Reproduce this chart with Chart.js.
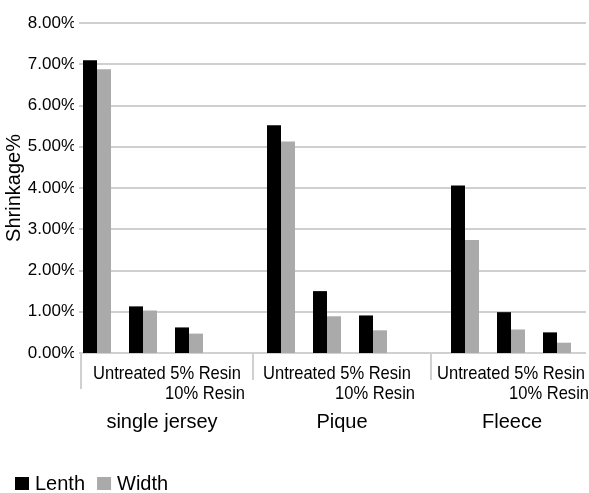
<!DOCTYPE html>
<html><head><meta charset="utf-8">
<script src="https://cdn.jsdelivr.net/npm/chart.js@4"></script>
<style>html,body{margin:0;padding:0;background:#fff;overflow:hidden}#wrap{width:589px;height:493px}</style>
</head><body><div id="wrap"><canvas id="c" width="589" height="493"></canvas></div>
<script>
// ---- data ----
const groups = ['single jersey', 'Pique', 'Fleece'];
const treatments = ['Untreated', '5% Resin', '10% Resin'];
const seriesNames = ['Lenth', 'Width'];
const lenth = [7.10, 1.13, 0.62, 5.52, 1.50, 0.91, 4.06, 0.99, 0.50];
const width = [6.88, 1.03, 0.47, 5.13, 0.89, 0.55, 2.74, 0.57, 0.25];
const yTicks = [0, 1, 2, 3, 4, 5, 6, 7, 8];
const yTickLabels = ['0.00%', '1.00%', '2.00%', '3.00%', '4.00%', '5.00%', '6.00%', '7.00%', '8.00%'];
const yTitle = 'Shrinkage%';

// ---- styles / layout ----
const FONT = "'Liberation Sans', Arial, sans-serif";
const COLORS = ['#000000', '#aaaaaa'];
const GRID = '#d0d0d0';
const CAT_SCALE_X = 0.87;
// label layout per group, relative to the pixel of the middle category of the group
const groupLayout = [
  { sep: -62, sepBottom: 389, row1: -50, name: 19 },
  { sep: -74, sepBottom: 380, row1: -64, name: 15 },
  { sep: -80, sepBottom: 380, row1: -74, name: 1 }
];

// build slots: 3 categories per group and an empty slot between groups
const labels = [], lenthData = [], widthData = [], midIndex = [];
groups.forEach((g, gi) => {
  treatments.forEach((t, ti) => {
    if (ti === 1) midIndex.push(labels.length);
    labels.push(t);
    lenthData.push(lenth[gi * 3 + ti]);
    widthData.push(width[gi * 3 + ti]);
  });
  if (gi < groups.length - 1) { labels.push(''); lenthData.push(null); widthData.push(null); }
});

function condensedText(ctx, text, x, y, align) {
  const w = ctx.measureText(text).width * CAT_SCALE_X;
  const left = align === 'right' ? x - w : x;
  ctx.save();
  ctx.translate(left, y);
  ctx.scale(CAT_SCALE_X, 1);
  ctx.textAlign = 'left';
  ctx.fillText(text, 0, 0);
  ctx.restore();
  return w;
}

const decor = {
  id: 'decor',
  beforeDatasetsDraw(chart) {
    const { ctx, chartArea: ca, scales: { y } } = chart;
    ctx.save();
    ctx.strokeStyle = GRID; ctx.lineWidth = 2;
    yTicks.forEach(v => {
      const py = Math.round(y.getPixelForValue(v));
      ctx.beginPath(); ctx.moveTo(ca.left + 5, py); ctx.lineTo(ca.right + 6, py); ctx.stroke();
    });
    ctx.restore();
  },
  afterDraw(chart) {
    const { ctx, scales: { x, y } } = chart;
    const y0 = Math.round(y.getPixelForValue(0));
    ctx.save();
    ctx.strokeStyle = GRID; ctx.lineWidth = 2;
    groups.forEach((g, gi) => {
      const mid = x.getPixelForValue(midIndex[gi]);
      const L = groupLayout[gi];
      const sx = Math.round(mid + L.sep);
      ctx.beginPath(); ctx.moveTo(sx, y0); ctx.lineTo(sx, L.sepBottom); ctx.stroke();
      ctx.fillStyle = '#000';
      ctx.font = '19px ' + FONT;
      ctx.textBaseline = 'alphabetic';
      const start = mid + L.row1;
      const w0 = condensedText(ctx, treatments[0] + ' ', start, 379, 'left');
      condensedText(ctx, treatments[1], start + w0, 379, 'left');
      condensedText(ctx, treatments[2], start + 152, 399, 'right');
      ctx.textAlign = 'center';
      ctx.font = '20px ' + FONT;
      ctx.fillText(g, mid + L.name, 428);
    });
    // legend
    ctx.font = '20px ' + FONT;
    ctx.textAlign = 'left';
    let lx = 15;
    seriesNames.forEach((n, i) => {
      ctx.fillStyle = COLORS[i];
      ctx.fillRect(lx, 477, 14, 13);
      ctx.fillStyle = '#000';
      ctx.fillText(n, lx + 20, 490);
      lx += 20 + ctx.measureText(n).width + 12;
    });
    ctx.restore();
  }
};

new Chart(document.getElementById('c'), {
  type: 'bar',
  data: {
    labels,
    datasets: [
      { label: seriesNames[0], data: lenthData, backgroundColor: COLORS[0], barPercentage: 1, categoryPercentage: 28 / 46 },
      { label: seriesNames[1], data: widthData, backgroundColor: COLORS[1], barPercentage: 1, categoryPercentage: 28 / 46 }
    ]
  },
  options: {
    responsive: false,
    animation: false,
    devicePixelRatio: 1,
    layout: { padding: { left: 0, right: 9, top: 23, bottom: 140 } },
    plugins: { legend: { display: false }, tooltip: { enabled: false } },
    scales: {
      x: { display: false, offset: true },
      y: {
        min: 0, max: 8,
        afterBuildTicks(s) { s.ticks = yTicks.map(v => ({ value: v })); },
        ticks: { callback: (v, i) => yTickLabels[i], font: { family: FONT, size: 17 }, color: '#000', padding: -2 },
        grid: { display: false, drawTicks: false },
        border: { display: false },
        title: { display: true, text: yTitle, font: { family: FONT, size: 20 }, color: '#000', padding: { top: 2, bottom: 0 } },
        afterFit(s) { s.width = 74; }
      }
    }
  },
  plugins: [decor]
});
</script></body></html>
